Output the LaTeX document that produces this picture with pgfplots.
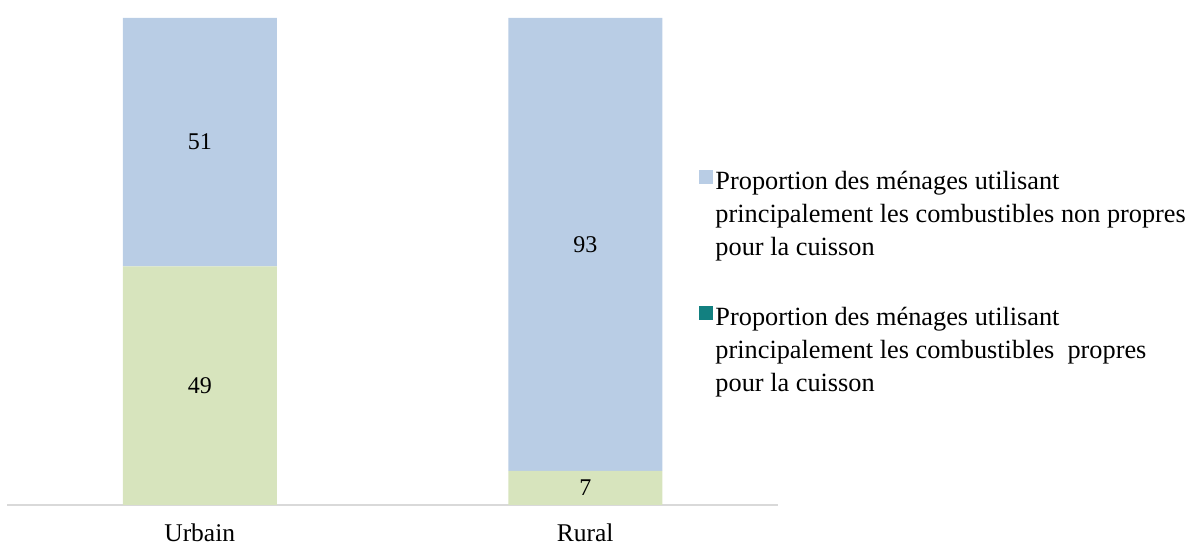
\documentclass[border=0pt]{standalone}
\usepackage{pgfplots}
\pgfplotsset{compat=1.18}
\usepackage{fontspec}
\setmainfont{Liberation Serif}
\definecolor{nonpropre}{RGB}{185,205,229}
\definecolor{propre}{RGB}{215,228,189}
\definecolor{legteal}{RGB}{18,128,128}
\definecolor{axgray}{RGB}{217,217,217}
\begin{document}
\begin{tikzpicture}[x=1pt,y=1pt]
\path[use as bounding box] (-7,-43) rectangle (1188,505);
\begin{axis}[
  at={(0,0)}, anchor=south west,
  scale only axis, width=771pt, height=487pt,
  ybar stacked, bar width=154pt,
  xmin=-0.5, xmax=1.5, ymin=0, ymax=100,
  axis y line=none,
  axis x line*=bottom,
  x axis line style={draw=axgray, line width=1.5pt, -},
  xtick=data, xticklabels={Urbain,Rural},
  xtick style={draw=none},
  ticklabel style={font=\fontsize{25.5}{28}\selectfont},
  xticklabel style={anchor=base, inner sep=0pt, yshift=-37pt},
  clip=false,
  legend style={draw=none, fill=none, at={(0.894,0.694)}, anchor=north west,
    font=\fontsize{26.3}{33}\selectfont, row sep=46pt,
    cells={anchor=west, align=left}},
  legend cell align=left,
  reverse legend,
]
\addplot[fill=propre, draw=none, area legend,
  legend image code/.code={\fill[legteal] (0pt,30pt) rectangle (14pt,44pt);}]
  coordinates {(0,49) (1,7)};
\addlegendentry{Proportion des ménages utilisant\\principalement les combustibles\ \ propres\\pour la cuisson}
\addplot[fill=nonpropre, draw=none, area legend,
  legend image code/.code={\fill[nonpropre] (0pt,30pt) rectangle (14pt,44pt);}]
  coordinates {(0,51) (1,93)};
\addlegendentry{Proportion des ménages utilisant\\principalement les combustibles non propres\\pour la cuisson}
\end{axis}
\begin{axis}[
  at={(0,0)}, anchor=south west,
  scale only axis, width=771pt, height=487pt,
  xmin=-0.5, xmax=1.5, ymin=0, ymax=100,
  hide axis, clip=false,
]
\addplot[only marks, mark=none, nodes near coords, point meta=explicit symbolic,
  every node near coord/.style={anchor=center, font=\fontsize{24}{26}\selectfont, text=black}]
  coordinates {(0,24.5) [49] (0,74.5) [51] (1,3.5) [7] (1,53.5) [93]};
\end{axis}
\end{tikzpicture}
\end{document}
